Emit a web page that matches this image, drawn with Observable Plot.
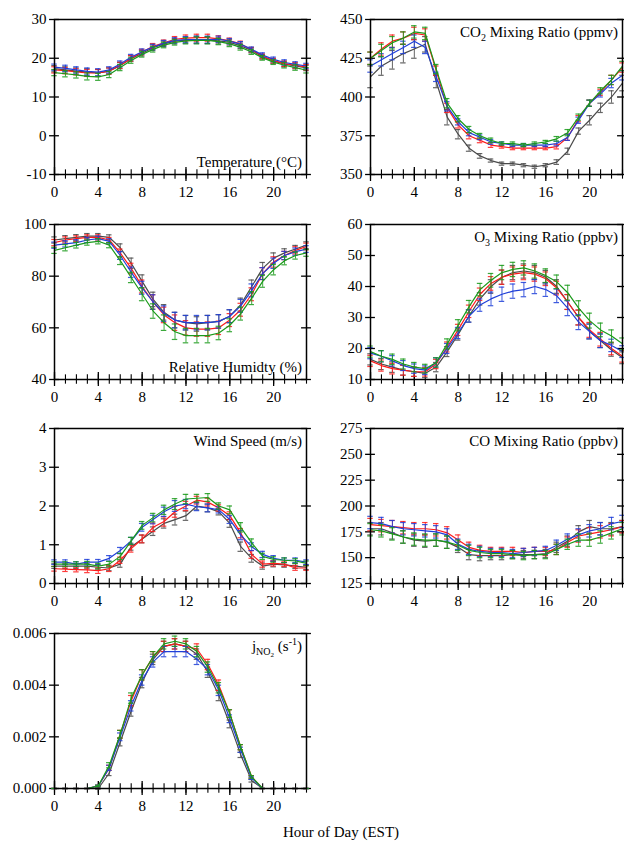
<!DOCTYPE html>
<html><head><meta charset="utf-8">
<script src="https://cdn.jsdelivr.net/npm/d3@7"></script>
<script src="https://cdn.jsdelivr.net/npm/@observablehq/plot@0.6"></script>
<style>
body{margin:0;background:#fff;}
#c{position:relative;width:624px;height:846px;font-family:"Liberation Serif",serif;}
#c svg{position:absolute;overflow:visible;}
#c svg text{font-family:"Liberation Serif",serif !important;}
#xl{position:absolute;left:0;width:682px;text-align:center;top:824px;font-size:15px;}
</style></head><body><div id="c"><div id="xl">Hour of Day (EST)</div></div>
<script>
const hours = d3.range(24);
const seriesNames = ["black","red","blue","green"];
const colors = {black:"#4a4a4a", red:"#ff1a1a", blue:"#1f3fd8", green:"#1a9a1a"};

const tempBlack=[17.3,17,16.7,16.4,16.2,16.7,18.1,19.9,21.3,22.7,23.7,24.4,24.7,24.8,24.7,24.5,24.1,23.2,22,20.4,19.3,18.5,18,17.5];
const tempRed=[17,16.8,16.5,16.2,16.2,16.7,18.2,20,21.6,23.1,24,24.9,25.2,25.3,25.3,25,24.5,23.7,22.2,20.5,19.4,18.6,18.2,17.7];
const tempBlue=[17.7,17.4,17,16.6,16.4,17,18.5,20.3,21.7,22.9,23.9,24.6,24.8,24.8,24.8,24.9,24.4,23.6,22.3,20.8,19.7,18.9,18.4,18];
const tempGreen=[16.3,16,15.7,15.3,15.2,15.8,17.6,19.4,21,22.3,23.4,24.1,24.5,24.6,24.6,24.3,23.7,22.8,21.6,20.1,19,18.2,17.6,16.9];
const tempErr=[0.8,0.8,0.8,0.9,0.9,0.8,0.8,0.7,0.7,0.7,0.7,0.7,0.8,0.9,0.9,0.8,0.7,0.7,0.6,0.6,0.6,0.7,0.7,0.7];

const co2Black=[413,420,424,428,431,434,410,387,376,367,362,359,357,357,356,355,356,358,365,378,385,393,400,409];
const co2Red=[425,431,436,438,441,440,417,393,382,375,372,369,368,367,367,367,367,368,374,386,396,403,411,419];
const co2Blue=[420,424,428,432,436,432,413,394,384,377,374,371,370,369,369,369,369,370,374,385,396,402,409,414];
const co2Green=[425,430,435,438,442,441,418,396,386,379,375,372,370,370,369,370,371,373,377,387,396,404,411,420];
const co2Err=[4,4,4,4,4,4,3,3,2,2,1.5,1.5,1,1,1,1,1,1.5,2,2,2,2,3,3];
const co2ErrBlack=[7,6,6,6,6,5,4,5,3,2,1.5,1,1,1,1,1,1,1.5,2,2,3,3,4,5];

const rhBlack=[94,94.5,95,95.5,95.5,95,91,85,78,71,66,63,62,61.5,62,62.5,64.5,69,76,83,87,89,90.5,92];
const rhRed=[93,94,94.5,95,95,94,89,83,76,70,65,62,60,59.5,59.5,60,63,67,73,81,85.5,88,90,91.5];
const rhBlue=[92,92.5,93,94,94.5,93.5,88,81.5,75.5,70,65.5,63,62,62,62,62.5,64.5,68.5,74.5,81,85,88,89.5,90.5];
const rhGreen=[90,91,92,93,93.5,92,86,79.5,73,66.5,62,58.5,57,57,57,58,61,65.5,71.5,78,82.5,86,88,89];
const rhErr=[1.2,1.2,1.1,1,1,1,1.5,2,2.5,2.8,3,3,2.8,2.8,2.8,2.6,2.5,2.5,2.5,2.3,2,1.6,1.4,1.3];

const o3Black=[16.5,15,14,13,12.5,12,14,19,24.5,30.5,36,40,43,44.5,45,44.5,43,40,35,30,25.5,22.5,19.5,17];
const o3Red=[16,14.5,13.5,13,12.5,12.5,15,20.5,26,32,37.5,41,43,44,44.5,44,42.5,39.5,35,30,26,23,20,17.5];
const o3Blue=[18.5,17.5,16,14.5,13.5,13,15.5,20,25,30.5,34,36,37.5,38.5,39,40,39,37,33,28.5,25.5,22.5,21,19];
const o3Green=[19,17.5,16.5,15,14,13.5,15.5,21.5,27.5,33.5,39,42,44.5,45.5,46,45,43.5,41.5,38,33,29,26,24,21.5];
const o3Err=[1.8,1.8,1.7,1.6,1.5,1.4,1.5,1.6,1.8,2,2,2.2,2.3,2.3,2.3,2.3,2.2,2.2,2.4,2.4,2.4,2.2,2,1.9];

const wsBlack=[0.45,0.45,0.45,0.45,0.42,0.4,0.5,0.95,1.15,1.35,1.55,1.65,1.75,2.0,1.95,1.85,1.55,0.95,0.65,0.45,0.5,0.48,0.45,0.42];
const wsRed=[0.38,0.37,0.36,0.35,0.33,0.38,0.6,0.9,1.15,1.45,1.6,1.85,2.0,2.15,2.1,1.95,1.75,1.3,0.75,0.5,0.52,0.5,0.4,0.4];
const wsBlue=[0.55,0.55,0.5,0.55,0.55,0.65,0.85,1.1,1.45,1.65,1.85,2.0,2.05,1.98,1.95,1.9,1.65,1.25,0.95,0.75,0.65,0.6,0.6,0.55];
const wsGreen=[0.5,0.5,0.5,0.5,0.45,0.5,0.7,1.1,1.5,1.7,1.9,2.05,2.18,2.2,2.22,2.0,1.9,1.45,1.05,0.7,0.62,0.6,0.58,0.52];
const wsErr=[0.06,0.06,0.06,0.07,0.07,0.07,0.08,0.09,0.1,0.11,0.12,0.14,0.12,0.1,0.1,0.08,0.1,0.12,0.1,0.08,0.07,0.06,0.06,0.06];

const coBlack=[178,178,174,170,167,166,167,165,160,153,152,152,152,153,153,153,154,160,166,175,180,178,178,180];
const coRed=[182,181,180,179,178,178,177,174,167,160,157,156,156,156,155,156,156,158,165,171,173,175,177,180];
const coBlue=[184,183,180,178,177,176,175,172,163,158,156,155,155,154,155,156,157,162,168,172,176,178,183,185];
const coGreen=[177,176,173,170,168,167,167,165,162,157,155,154,154,153,152,153,153,158,163,167,167,170,174,178];
const coErr=[6,6,6,6,6,6,6,6,5,5,5,4,4,4,4,4,4,5,5,6,6,6,6,6];

const jBlack=[0,0,0,0,0,0.0006,0.0018,0.003,0.0041,0.005,0.0055,0.0056,0.0055,0.0052,0.0045,0.0036,0.0025,0.0013,0.0003,0,0,0,0,0];
const jRed=[0,0,0,0,0.0001,0.0008,0.0021,0.0034,0.0044,0.0051,0.0055,0.0056,0.0055,0.0054,0.0048,0.004,0.0029,0.0016,0.00045,0,0,0,0,0];
const jBlue=[0,0,0,0,0.0001,0.0008,0.002,0.0032,0.0042,0.0049,0.0053,0.0053,0.0053,0.005,0.0046,0.0038,0.0027,0.0015,0.0004,0,0,0,0,0];
const jGreen=[0,0,0,0,0.0001,0.0009,0.0021,0.0035,0.0044,0.0051,0.0056,0.0057,0.0056,0.0053,0.0047,0.0039,0.0029,0.0016,0.00045,0,0,0,0,0];
const jErr=[0,0,0,0,0.00003,0.0001,0.00015,0.0002,0.0002,0.0002,0.0002,0.0002,0.0002,0.0002,0.0002,0.0002,0.00015,0.0001,0.00005,0,0,0,0,0];

const xTicks=[0,4,8,12,16,20];

const panels=[
 {col:0,row:0,dom:[-10,30],ticks:[-10,0,10,20,30],fmt:d=>d,label:[["Temperature (°C)"]],bottom:true,
  s:{black:tempBlack,red:tempRed,blue:tempBlue,green:tempGreen},e:{black:tempErr,red:tempErr,blue:tempErr,green:tempErr}},
 {col:1,row:0,dom:[350,450],ticks:[350,375,400,425,450],fmt:d=>d,label:[["CO"],["2","sub"],[" Mixing Ratio (ppmv)","back4"]],
  s:{black:co2Black,red:co2Red,blue:co2Blue,green:co2Green},e:{black:co2ErrBlack,red:co2Err,blue:co2Err,green:co2Err}},
 {col:0,row:1,dom:[40,100],ticks:[40,60,80,100],fmt:d=>d,label:[["Relative Humidty (%)"]],bottom:true,
  s:{black:rhBlack,red:rhRed,blue:rhBlue,green:rhGreen},e:{black:rhErr,red:rhErr,blue:rhErr,green:rhErr}},
 {col:1,row:1,dom:[10,60],ticks:[10,20,30,40,50,60],fmt:d=>d,label:[["O"],["3","sub"],[" Mixing Ratio (ppbv)","back4"]],
  s:{black:o3Black,red:o3Red,blue:o3Blue,green:o3Green},e:{black:o3Err,red:o3Err,blue:o3Err,green:o3Err}},
 {col:0,row:2,dom:[0,4],ticks:[0,1,2,3,4],fmt:d=>d,label:[["Wind Speed (m/s)"]],
  s:{black:wsBlack,red:wsRed,blue:wsBlue,green:wsGreen},e:{black:wsErr,red:wsErr,blue:wsErr,green:wsErr}},
 {col:1,row:2,dom:[125,275],ticks:[125,150,175,200,225,250,275],fmt:d=>d,label:[["CO Mixing Ratio (ppbv)"]],
  s:{black:coBlack,red:coRed,blue:coBlue,green:coGreen},e:{black:coErr,red:coErr,blue:coErr,green:coErr}},
 {col:0,row:3,dom:[0,0.006],ticks:[0,0.002,0.004,0.006],fmt:d=>d.toFixed(3),label:[["j"],["NO","sub"],["2","subsub"],[" (s","back6"],["-1","sup"],[")","down6"]],
  s:{black:jBlack,red:jRed,blue:jBlue,green:jGreen},e:{black:jErr,red:jErr,blue:jErr,green:jErr}}
];

const c=document.getElementById("c");
const rowTops=[0,205,409,614];
for(const p of panels){
  const [y0,y1]=p.dom, r=y1-y0;
  const ml=p.col?58:54, mr=p.col?2:6, W=312;
  const data=[];
  for(const s of seriesNames) hours.forEach(h=>data.push({s,h,v:p.s[s][h],e:p.e[s][h]}));
  const marks=[];
  marks.push(Plot.ruleY(p.ticks,{y:d=>d,x1:-0.45,x2:0.45,stroke:"#000",strokeWidth:1.3}));
  marks.push(Plot.ruleY(p.ticks,{y:d=>d,x1:22.55,x2:23.45,stroke:"#000",strokeWidth:1.3}));
  marks.push(Plot.ruleX(hours,{x:d=>d,y1:y0-0.03*r,y2:y0+0.03*r,stroke:"#000",strokeWidth:1.1}));
  marks.push(Plot.ruleX(xTicks,{x:d=>d,y1:y0-0.045*r,y2:y0+0.045*r,stroke:"#000",strokeWidth:1.3}));
  for(const s of seriesNames){
    const d=data.filter(o=>o.s===s);
    marks.push(Plot.ruleX(d,{x:"h",y1:o=>o.v-o.e,y2:o=>o.v+o.e,stroke:colors[s],strokeWidth:1,strokeOpacity:0.85}));
    marks.push(Plot.ruleY(d,{y:o=>o.v+o.e,x1:o=>o.h-0.25,x2:o=>o.h+0.25,stroke:colors[s],strokeWidth:1.2,strokeOpacity:0.85}));
    marks.push(Plot.ruleY(d,{y:o=>o.v-o.e,x1:o=>o.h-0.25,x2:o=>o.h+0.25,stroke:colors[s],strokeWidth:1.2,strokeOpacity:0.85}));
    marks.push(Plot.line(d,{x:"h",y:"v",stroke:colors[s],strokeWidth:1.2}));
  }
  marks.push(Plot.frame({stroke:"#000",strokeWidth:1.5}));
  marks.push(Plot.axisX({ticks:xTicks,tickSize:0,tickPadding:12,fontSize:15,tickFormat:d=>d,label:null}));
  marks.push(Plot.axisY({ticks:p.ticks,tickSize:0,tickPadding:8,fontSize:15,tickFormat:p.fmt,label:null}));
  const svg=Plot.plot({width:W,height:204,marginLeft:ml,marginRight:mr,marginTop:19,marginBottom:30,
    style:{fontFamily:"Liberation Serif, serif",fontSize:"15px",color:"#000",background:"transparent",overflow:"visible"},
    x:{domain:[0,23],label:null},y:{domain:p.dom,label:null},marks});
  svg.style.left=(p.col?312:0)+"px";
  svg.style.top=rowTops[p.row]+"px";
  c.appendChild(svg);
  const t=d3.select(svg).append("text").attr("x",W-mr-4).attr("y",p.bottom?204-30-7:19+18)
    .attr("text-anchor","end").attr("font-size",15).attr("fill","#000");
  for(const [txt,kind] of p.label){
    const ts=t.append("tspan").text(txt);
    if(kind==="sub") ts.attr("font-size",10).attr("dy",4);
    else if(kind==="subsub") ts.attr("font-size",7).attr("dy",2);
    else if(kind==="sup") ts.attr("font-size",10).attr("dy",-6);
    else if(kind==="back6") ts.attr("dy",-6);
    else if(kind==="down6") ts.attr("dy",6);
    else if(kind==="back4") ts.attr("dy",-4);
  }
}
</script></body></html>
